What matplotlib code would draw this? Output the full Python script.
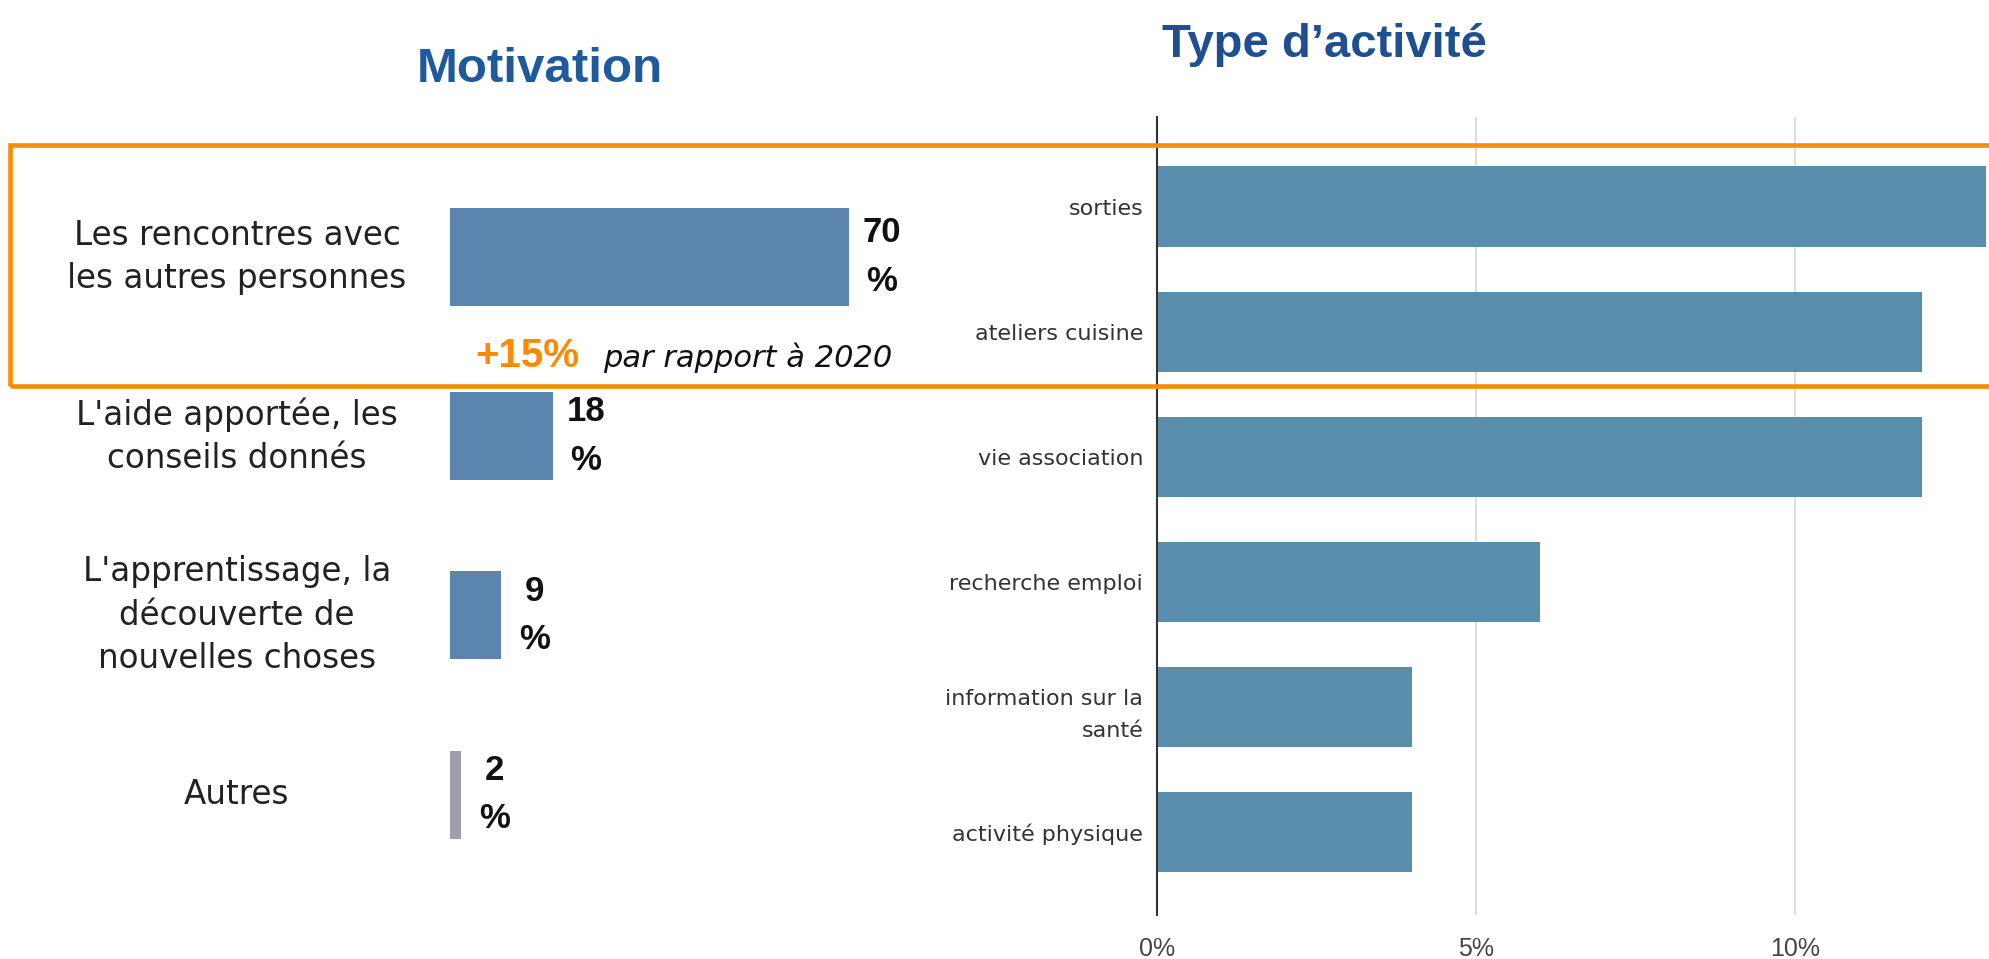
import matplotlib.pyplot as plt
from matplotlib.patches import Rectangle
from matplotlib.transforms import blended_transform_factory

# Motivation (chart de gauche)
motif_labels = ["Les rencontres avec\nles autres personnes",
                "L'aide apportée, les\nconseils donnés",
                "L'apprentissage, la\ndécouverte de\nnouvelles choses",
                "Autres"]
motif_values = [70, 18, 9, 2]

# Type d'activité (chart de droite), en %
activite_labels = ["sorties", "ateliers cuisine", "vie association",
                   "recherche emploi", "information sur la\nsanté",
                   "activité physique"]
activite_values = [13, 12, 12, 6, 4, 4]
activite_ticks = [0, 5, 10]

W, H = 1990, 959
fig = plt.figure(figsize=(W / 100, H / 100), dpi=100)


def px_axes(x0, y0, x1, y1):
    # axes placee en pixels (origine en haut a gauche)
    return fig.add_axes([x0 / W, 1 - y1 / H, (x1 - x0) / W, (y1 - y0) / H])


def fy(y):
    return 1 - y / H


# ---- Motivation
ax1 = px_axes(450, 150, 906, 880)
ax1.barh(range(len(motif_values)), motif_values,
         height=[0.547, 0.49, 0.49, 0.49],
         color=['#5b84ae', '#5b84ae', '#5b84ae', '#a09eaa'])
ax1.set_xlim(0, 80)
ax1.set_ylim(3.476, -0.596)
ax1.axis('off')

trans = blended_transform_factory(fig.transFigure, ax1.transData)
for i, (lab, v) in enumerate(zip(motif_labels, motif_values)):
    ax1.text(237 / W, i, lab, transform=trans, ha='center', va='center',
             fontsize=23.5, family='DejaVu Sans', color='#222222',
             linespacing=1.4)
    ax1.annotate(f"{v}\n%", (v, i), xytext=(23.8, 0), textcoords='offset points',
                 ha='center', va='center', fontsize=25, fontweight='bold',
                 family='Liberation Sans', color='#111111', linespacing=1.6)

fig.text(540 / W, fy(82), "Motivation", ha='center', va='baseline',
         fontsize=35.5, fontweight='bold', color='#1f5a9c',
         family='Liberation Sans')

fig.text(475 / W, fy(367), "+15%", ha='left', va='baseline', fontsize=29,
         fontweight='bold', color='#ff8a00', family='Liberation Sans')
fig.text(603 / W, fy(367), "par rapport à 2020", ha='left', va='baseline',
         fontsize=22, style='italic', color='#111111', family='DejaVu Sans')

# ---- Type d'activité
ax2 = px_axes(1157, 117, 1990, 915)
ax2.barh(range(len(activite_values)), activite_values, height=0.64,
         color='#598fac', zorder=2)
ax2.set_xlim(0, 13.06)
ax2.set_ylim(5.66, -0.715)
for s in ['top', 'right', 'bottom']:
    ax2.spines[s].set_visible(False)
ax2.spines['left'].set_color('#333333')
ax2.spines['left'].set_linewidth(1.5)
ax2.spines['left'].set_zorder(3)
ax2.set_xticks(activite_ticks, [f"{t}%" for t in activite_ticks])
ax2.xaxis.grid(True, color='#d9d9d9', linewidth=1.2, zorder=1)
ax2.set_axisbelow(True)
ax2.set_yticks(range(len(activite_labels)), activite_labels)
ax2.tick_params(axis='both', length=0)
ax2.tick_params(axis='x', pad=16, labelsize=18, labelcolor='#444444')
ax2.tick_params(axis='y', pad=10, labelsize=16, labelcolor='#333333')
for t in ax2.get_xticklabels():
    t.set_family('Liberation Sans')
for t in ax2.get_yticklabels():
    t.set_family('DejaVu Sans')
    t.set_linespacing(1.75)

fig.text(1162 / W, fy(57), "Type d’activité", ha='left', va='baseline',
         fontsize=34, fontweight='bold', color='#1d4f91',
         family='Liberation Sans')

# cadre orange de mise en avant
fig.add_artist(Rectangle((10 / W, fy(386)), 2000 / W, (386 - 145) / H,
                         transform=fig.transFigure, fill=False,
                         edgecolor='#ff8a00', linewidth=3.3, zorder=5))

fig.savefig('out.png', dpi=100, facecolor='white')
